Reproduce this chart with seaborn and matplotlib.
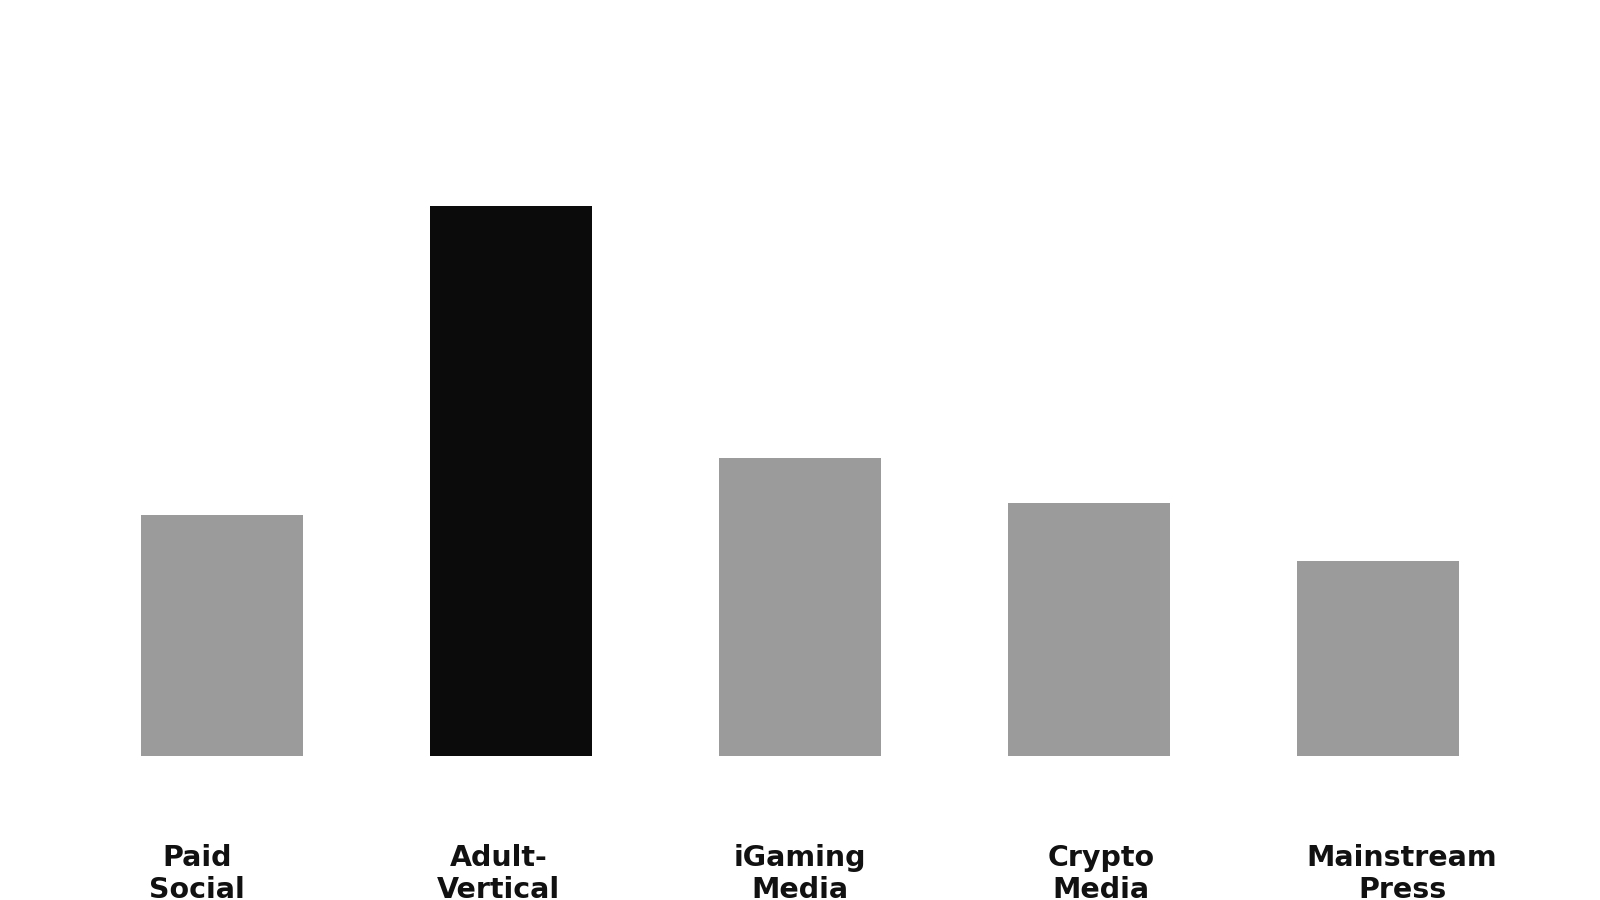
import matplotlib
matplotlib.use("Agg")
import matplotlib.pyplot as plt
import seaborn as sns

# data (relative bar heights)
categories = ["Paid Social", "Adult-Vertical", "iGaming Media", "Crypto Media", "Mainstream Press"]
tick_labels = ["Paid\nSocial", "Adult-\nVertical", "iGaming\nMedia", "Crypto\nMedia", "Mainstream\nPress"]
values = [43.7, 100, 54.2, 46, 35.5]
bar_colors = ["#9b9b9b", "#0b0b0b", "#9b9b9b", "#9b9b9b", "#9b9b9b"]

sns.set_theme(style="white")
plt.rcParams["font.family"] = ["DejaVu Sans"]

fig = plt.figure(figsize=(16, 9), dpi=100)

# bars
ax = fig.add_axes([0.0484, 0.16, 0.903, 0.74])
sns.barplot(x=categories, y=values, hue=categories, palette=bar_colors,
            legend=False, width=0.56, saturation=1, linewidth=0, ax=ax)
ax.set_xlim(-0.5, 4.5)
ax.set_ylim(0, 121)
ax.axis("off")

# category labels sit on a slightly wider band than the bars
ax2 = fig.add_axes([0.0290, 0.0622, 0.9415, 0.001])
ax2.set_xlim(-0.5, 4.5)
ax2.set_xticks(range(len(tick_labels)))
ax2.set_xticklabels(tick_labels, fontsize=20.5, fontweight="bold", color="#111111",
                    linespacing=1.16)
ax2.tick_params(axis="x", length=0, pad=0)
ax2.set_yticks([])
for s in ax2.spines.values():
    s.set_visible(False)
ax2.patch.set_alpha(0)

fig.savefig("out.png", dpi=100, facecolor="white")
